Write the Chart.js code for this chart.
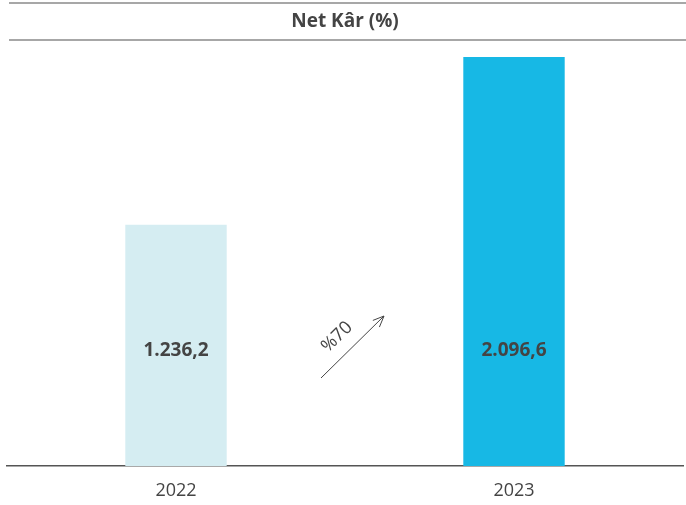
<!DOCTYPE html>
<html>
<head>
<meta charset="utf-8">
<script src="https://cdn.jsdelivr.net/npm/chart.js@4/dist/chart.umd.min.js"></script>
<style>
html,body{margin:0;padding:0;background:#fff;}
#wrap{width:686px;height:505px;position:relative;}
</style>
</head>
<body>
<div id="wrap"><canvas id="c"></canvas></div>
<script>
const categories = ["2022", "2023"];
const netProfit = [1236.2, 2096.6];
const valueLabels = ["1.236,2", "2.096,6"];
const barColors = ["#d5edf2", "#17b8e5"];
const chartTitle = "Net Kâr (%)";
const growthLabel = "%70";

const FONT = "'Open Sans', 'Noto Sans', sans-serif";

const decor = {
  id: 'decor',
  afterDraw(chart) {
    const ctx = chart.ctx;
    const w = chart.width;
    const area = chart.chartArea;
    const x = chart.scales.x;
    ctx.save();
    // title rules
    ctx.strokeStyle = '#8a8a8a';
    ctx.lineWidth = 1.5;
    ctx.beginPath();
    ctx.moveTo(9, 3); ctx.lineTo(w, 3);
    ctx.moveTo(9, 40); ctx.lineTo(w, 40);
    ctx.stroke();
    // value labels
    ctx.fillStyle = '#444';
    ctx.font = "bold 19px " + FONT;
    ctx.textAlign = 'center';
    ctx.textBaseline = 'middle';
    const meta = chart.getDatasetMeta(0);
    meta.data.forEach((bar, i) => {
      ctx.fillText(valueLabels[i], bar.x, area.bottom - 115);
    });
    // growth arrow
    const cx = (x.getPixelForValue(0) + x.getPixelForValue(1)) / 2;
    const x0 = cx - 24, y0 = area.bottom - 88;
    const x1 = cx + 39, y1 = area.bottom - 150;
    ctx.strokeStyle = '#444';
    ctx.lineWidth = 1;
    ctx.beginPath();
    ctx.moveTo(x0, y0); ctx.lineTo(x1, y1);
    const ang = Math.atan2(y1 - y0, x1 - x0);
    const hl = 12;
    ctx.moveTo(x1, y1);
    ctx.lineTo(x1 - hl * Math.cos(ang - 0.4), y1 - hl * Math.sin(ang - 0.4));
    ctx.moveTo(x1, y1);
    ctx.lineTo(x1 - hl * Math.cos(ang + 0.4), y1 - hl * Math.sin(ang + 0.4));
    ctx.stroke();
    ctx.save();
    ctx.translate(cx - 8, area.bottom - 129);
    ctx.rotate(ang);
    ctx.font = "18px " + FONT;
    ctx.fillStyle = '#444';
    ctx.fillText(growthLabel, 0, 0);
    ctx.restore();
    ctx.restore();
  }
};

new Chart(document.getElementById('c'), {
  type: 'bar',
  data: {
    labels: categories,
    datasets: [{
      data: netProfit,
      backgroundColor: barColors,
      barPercentage: 0.6,
      categoryPercentage: 0.5
    }]
  },
  options: {
    responsive: true,
    maintainAspectRatio: false,
    animation: false,
    layout: { padding: { left: 7, right: 3, top: 0, bottom: 0 } },
    plugins: {
      legend: { display: false },
      tooltip: { enabled: false },
      title: {
        display: true,
        text: chartTitle,
        color: '#444',
        font: { family: FONT, size: 19, weight: 'bold' },
        padding: { top: 10, bottom: 6 }
      }
    },
    scales: {
      y: { display: false, min: 0, max: 2190 },
      x: {
        grid: { display: false },
        border: { display: true, color: '#555', width: 1.5 },
        ticks: { color: '#444', padding: 6, font: { family: FONT, size: 18 } },
        afterFit(scale) { scale.height = 39; }
      }
    }
  },
  plugins: [decor]
});
</script>
</body>
</html>
